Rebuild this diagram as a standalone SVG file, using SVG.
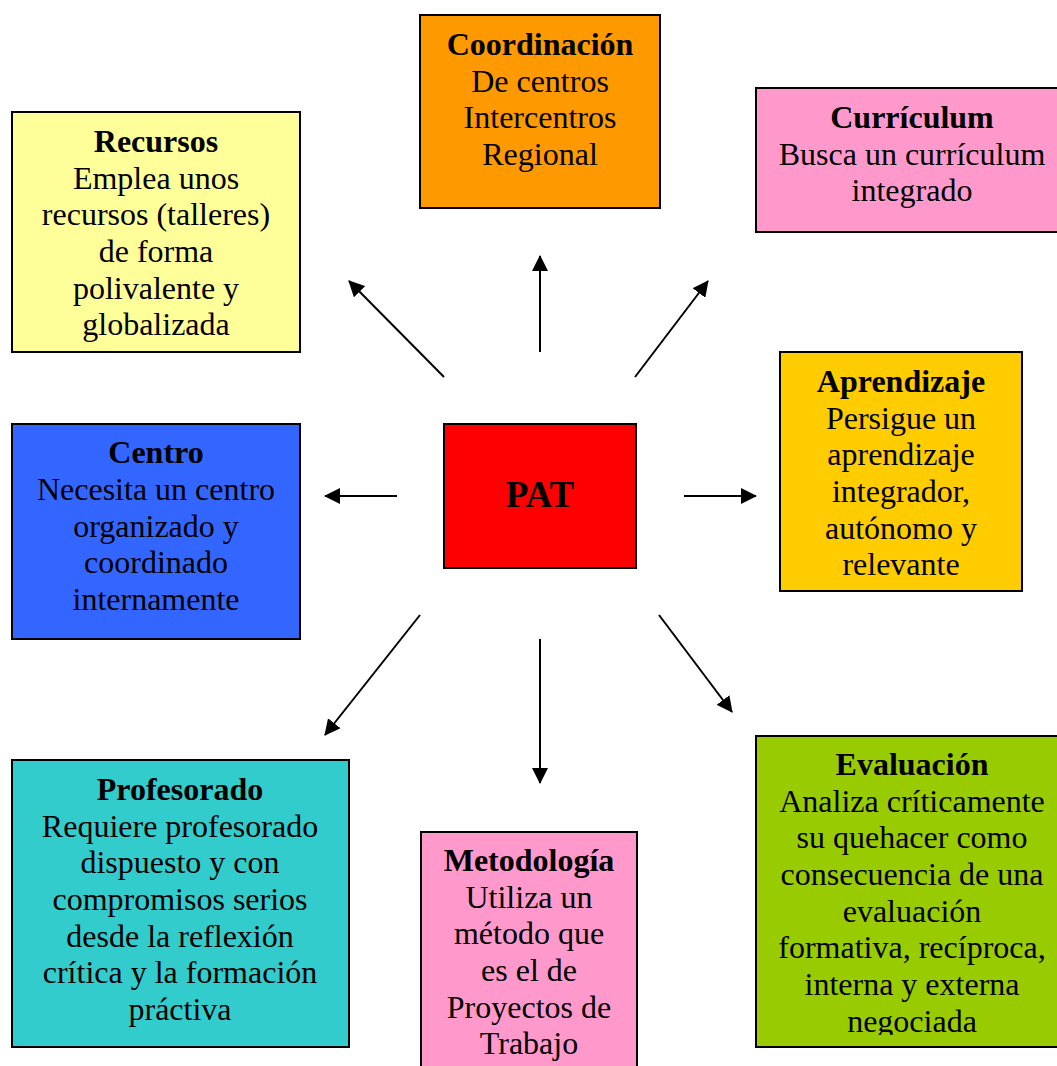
<svg xmlns="http://www.w3.org/2000/svg" width="1057" height="1066" viewBox="0 0 1057 1066">
<style>
.box{stroke:#000;stroke-width:2}
text{font-family:"Liberation Serif","Times New Roman",serif;font-size:32px;fill:#000;text-anchor:middle}
.t{font-weight:bold}
.pat{font-weight:bold;font-size:37px}
.conn line{stroke:#000;stroke-width:2;fill:none}
</style>
<defs>
<marker id="ah" viewBox="0 0 16 16" refX="15" refY="8" markerWidth="16" markerHeight="16" markerUnits="userSpaceOnUse" orient="auto">
<path d="M0,0 L16,8 L0,16 z" fill="#000"/>
</marker>
<clipPath id="evclip"><rect x="750" y="730" width="320" height="305"/></clipPath>
</defs>
<rect width="1057" height="1066" fill="#fff"/>

<g id="recursos">
<rect class="box" x="12" y="112" width="288" height="240" fill="#FFFF99"/>
<text x="156" y="152" class="t">Recursos</text>
<text x="156" y="189">Emplea unos</text>
<text x="156" y="225">recursos (talleres)</text>
<text x="156" y="262">de forma</text>
<text x="156" y="299">polivalente y</text>
<text x="156" y="335">globalizada</text>
</g>

<g id="coordinacion">
<rect class="box" x="420" y="15" width="240" height="193" fill="#FF9900"/>
<text x="540" y="55" class="t">Coordinación</text>
<text x="540" y="92">De centros</text>
<text x="540" y="128">Intercentros</text>
<text x="540" y="165">Regional</text>
</g>

<g id="curriculum">
<rect class="box" x="756" y="88" width="312" height="144" fill="#FF99CC"/>
<text x="912" y="128" class="t">Currículum</text>
<text x="912" y="165">Busca un currículum</text>
<text x="912" y="201">integrado</text>
</g>

<g id="aprendizaje">
<rect class="box" x="780" y="352" width="242" height="239" fill="#FFCC00"/>
<text x="901" y="392" class="t">Aprendizaje</text>
<text x="901" y="429">Persigue un</text>
<text x="901" y="465">aprendizaje</text>
<text x="901" y="502">integrador,</text>
<text x="901" y="539">autónomo y</text>
<text x="901" y="575">relevante</text>
</g>

<g id="centro">
<rect class="box" x="12" y="424" width="288" height="215" fill="#3366FF"/>
<text x="156" y="463" class="t">Centro</text>
<text x="156" y="500">Necesita un centro</text>
<text x="156" y="537">organizado y</text>
<text x="156" y="573">coordinado</text>
<text x="156" y="610">internamente</text>
</g>

<g id="pat">
<rect class="box" x="444" y="424" width="192" height="144" fill="#FF0000"/>
<text x="540" y="507" class="pat">PAT</text>
</g>

<g id="profesorado">
<rect class="box" x="12" y="760" width="337" height="287" fill="#33CCCC"/>
<text x="180" y="800" class="t">Profesorado</text>
<text x="180" y="837">Requiere profesorado</text>
<text x="180" y="873">dispuesto y con</text>
<text x="180" y="910">compromisos serios</text>
<text x="180" y="947">desde la reflexión</text>
<text x="180" y="983">crítica y la formación</text>
<text x="180" y="1020">práctiva</text>
</g>

<g id="metodologia">
<rect class="box" x="421" y="832" width="216" height="240" fill="#FF99CC"/>
<text x="529" y="871" class="t">Metodología</text>
<text x="529" y="908">Utiliza un</text>
<text x="529" y="944">método que</text>
<text x="529" y="981">es el de</text>
<text x="529" y="1018">Proyectos de</text>
<text x="529" y="1054">Trabajo</text>
</g>

<g id="evaluacion">
<rect class="box" x="756" y="736" width="312" height="311" fill="#99CC00"/>
<g clip-path="url(#evclip)">
<text x="912" y="775" class="t">Evaluación</text>
<text x="912" y="812">Analiza críticamente</text>
<text x="912" y="848">su quehacer como</text>
<text x="912" y="885">consecuencia de una</text>
<text x="912" y="922">evaluación</text>
<text x="912" y="958">formativa, recíproca,</text>
<text x="912" y="995">interna y externa</text>
<text x="912" y="1032">negociada</text>
</g>
</g>

<g id="connectors" class="conn">
<line x1="444" y1="377" x2="349" y2="281" marker-end="url(#ah)"/>
<line x1="540" y1="352" x2="540" y2="256" marker-end="url(#ah)"/>
<line x1="635" y1="377" x2="708" y2="281" marker-end="url(#ah)"/>
<line x1="397" y1="496" x2="325" y2="496" marker-end="url(#ah)"/>
<line x1="684" y1="496" x2="756" y2="496" marker-end="url(#ah)"/>
<line x1="420" y1="615" x2="325" y2="735" marker-end="url(#ah)"/>
<line x1="540" y1="639" x2="540" y2="783" marker-end="url(#ah)"/>
<line x1="659" y1="615" x2="732" y2="712" marker-end="url(#ah)"/>
</g>
</svg>
